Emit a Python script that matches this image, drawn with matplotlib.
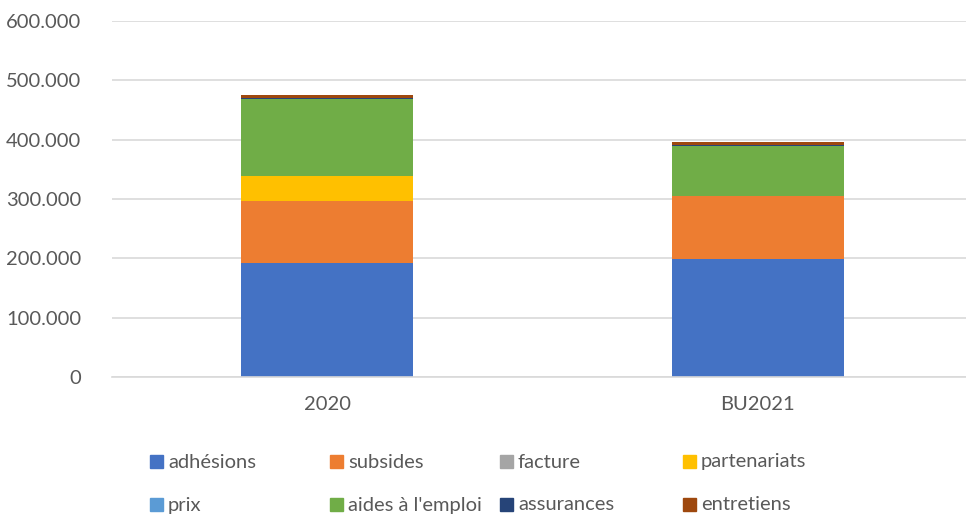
import matplotlib.pyplot as plt
import matplotlib.ticker as mticker
from matplotlib.patches import Rectangle
import numpy as np

plt.rcParams['font.family'] = ['Lato', 'DejaVu Sans']

years = ['2020', 'BU2021']
series = ['adhésions', 'subsides', 'facture', 'partenariats',
          'prix', "aides à l'emploi", 'assurances', 'entretiens']
adhesions = [192000, 199500]
subsides = [105000, 105000]
facture = [0, 0]
partenariats = [42500, 0]
prix = [0, 0]
aides = [129000, 84000]
assurances = [2000, 3000]
entretiens = [5000, 4500]
colors = ['#4472C4', '#ED7D31', '#A5A5A5', '#FFC000',
          '#5B9BD5', '#70AD47', '#264478', '#9E480E']

values = [adhesions, subsides, facture, partenariats, prix, aides, assurances, entretiens]

W, H = 966, 517
fig = plt.figure(figsize=(W / 100, H / 100), dpi=100)
ax = fig.add_axes([112/W, 1-377/H, 861/W, 356/H])

x = np.arange(len(years))
bottom = np.zeros(len(years))
for name, vals, c in zip(series, values, colors):
    ax.bar(x, vals, 0.4, bottom=bottom, color=c, label=name)
    bottom += np.array(vals)

ax.set_xlim(-0.5, 1.5)
ax.set_ylim(0, 600000)
ax.yaxis.set_major_locator(mticker.MultipleLocator(100000))
ax.yaxis.set_major_formatter(mticker.FuncFormatter(
    lambda v, p: '0' if v == 0 else f'{int(v):,}'.replace(',', '.')))
ax.set_xticks(x)
ax.set_xticklabels(years)
ax.grid(axis='y', color='#D9D9D9', linewidth=1.2)
ax.set_axisbelow(True)
for s in ['top', 'right', 'left']:
    ax.spines[s].set_visible(False)
ax.spines['bottom'].set_color('#D9D9D9')
ax.spines['bottom'].set_linewidth(1.2)
ax.tick_params(axis='both', length=0, labelsize=14.5, labelcolor='#595959')
ax.tick_params(axis='x', pad=14)
ax.tick_params(axis='y', pad=22)

# legend, 2 rows x 4 columns, row-major like the original
col_x = [150, 330, 500, 683]
row_y = [462, 505]
for i, (name, c) in enumerate(zip(series, colors)):
    cx = col_x[i % 4]
    cy = row_y[i // 4]
    fig.add_artist(Rectangle((cx / W, 1 - (cy + 6) / H), 13 / W, 13 / H,
                             transform=fig.transFigure, color=c))
    fig.text((cx + 18) / W, 1 - cy / H, name, fontsize=14.5, color='#595959',
             va='center', ha='left')

fig.savefig('out.png', dpi=100)
